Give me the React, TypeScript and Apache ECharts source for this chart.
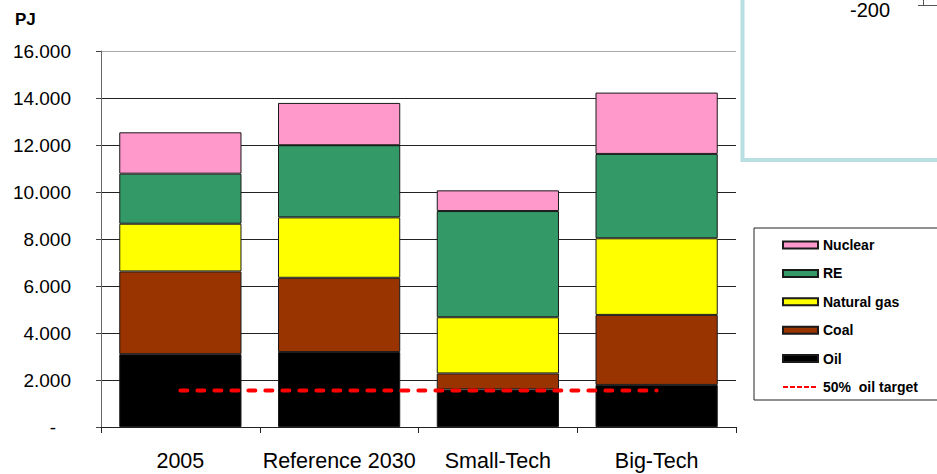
import React, { useEffect, useRef } from "react";
import * as echarts from "echarts";

// Primary energy supply by scenario, PJ
const categories = ["2005", "Reference 2030", "Small-Tech", "Big-Tech"];
const oil = [3100, 3190, 1600, 1790];
const coal = [3520, 3160, 680, 2980];
const naturalGas = [2030, 2570, 2390, 3260];
const renewables = [2130, 3070, 4520, 3590];
const nuclear = [1760, 1800, 880, 2610];
const oilTarget = [1550, 1550, 1550, 1550];

const yTicks = { min: 0, max: 16000, interval: 2000 };
const strayAxisLabel = "-200";

const FONT = 'Arial, "Liberation Sans", Helvetica, sans-serif';

function formatThousands(v: number): string {
  return String(v).replace(/\B(?=(\d{3})+(?!\d))/g, ".");
}

export default function App() {
  const ref = useRef<HTMLDivElement>(null);

  useEffect(() => {
    if (!ref.current) return;
    const chart = echarts.init(ref.current, undefined, { renderer: "svg" });

    const barBase = {
      type: "bar" as const,
      stack: "total",
      barCategoryGap: "23%",
      itemStyle: { borderColor: "#1a1a1a", borderWidth: 1 },
      emphasis: { disabled: true },
    };

    const gridColors = ["#222", "#222", "#222", "#222", "#222", "#222", "#222", "#222", "#aaa"];

    chart.setOption({
      animation: false,
      textStyle: { fontFamily: FONT },
      grid: { left: 101, right: 201, top: 51, bottom: 47, containLabel: false },
      xAxis: {
        type: "category",
        data: categories,
        axisLine: { lineStyle: { color: "#222", width: 1 } },
        axisTick: { show: true, length: 6, lineStyle: { color: "#222" } },
        axisLabel: { color: "#000", fontSize: 21.5, margin: 23, interval: 0, fontFamily: FONT },
      },
      yAxis: {
        type: "value",
        min: yTicks.min,
        max: yTicks.max,
        interval: yTicks.interval,
        axisLine: { show: true, lineStyle: { color: "#666", width: 1 } },
        axisTick: { show: true, length: 5, lineStyle: { color: "#444" } },
        splitLine: { show: true, lineStyle: { color: gridColors, width: 1 } },
        axisLabel: {
          color: "#000",
          fontSize: 19,
          margin: 30,
          fontFamily: FONT,
          formatter: (v: number) => (v === 0 ? "{d|-}" : formatThousands(v)),
          rich: { d: { fontSize: 19, color: "#000", fontFamily: FONT, padding: [0, 15, 0, 0] } },
        },
      },
      legend: {
        orient: "vertical",
        left: 782,
        top: 237,
        padding: 0,
        itemWidth: 35,
        itemHeight: 7,
        itemGap: 12.4,
        textStyle: { fontSize: 14, fontWeight: "bold", color: "#000", fontFamily: FONT, lineHeight: 16 },
        data: [
          { name: "Nuclear", icon: "rect" },
          { name: "RE", icon: "rect" },
          { name: "Natural gas", icon: "rect" },
          { name: "Coal", icon: "rect" },
          { name: "Oil", icon: "rect" },
          {
            name: "50%  oil target",
            itemStyle: { opacity: 0 },
            lineStyle: { width: 2, type: [5, 2], cap: "butt" },
          },
        ],
        selectedMode: false,
      },
      graphic: [
        {
          type: "rect",
          z: 0,
          shape: { x: 754, y: 228, width: 220, height: 172 },
          style: { fill: "#fff", stroke: "#222", lineWidth: 1 },
          silent: true,
        },
        {
          type: "rect",
          z: 0,
          shape: { x: 742.5, y: -20, width: 230, height: 180 },
          style: { fill: "none", stroke: "#BADFE2", lineWidth: 4 },
          silent: true,
        },
        {
          type: "text",
          x: 890,
          y: 10,
          style: {
            text: strayAxisLabel,
            fontSize: 20,
            fontFamily: FONT,
            fill: "#000",
            align: "right",
            verticalAlign: "middle",
          },
          silent: true,
        },
        {
          type: "line",
          shape: { x1: 918, y1: 5.5, x2: 937, y2: 5.5 },
          style: { stroke: "#555", lineWidth: 1 },
          silent: true,
        },
        {
          type: "line",
          shape: { x1: 923.5, y1: 0, x2: 923.5, y2: 5.5 },
          style: { stroke: "#555", lineWidth: 1 },
          silent: true,
        },
        {
          type: "text",
          x: 15,
          y: 19,
          style: {
            text: "PJ",
            fontSize: 17,
            fontWeight: "bold",
            fontFamily: FONT,
            fill: "#000",
            verticalAlign: "middle",
          },
          silent: true,
        },
      ],
      series: [
        { ...barBase, name: "Oil", data: oil, itemStyle: { ...barBase.itemStyle, color: "#000000" } },
        { ...barBase, name: "Coal", data: coal, itemStyle: { ...barBase.itemStyle, color: "#993300" } },
        { ...barBase, name: "Natural gas", data: naturalGas, itemStyle: { ...barBase.itemStyle, color: "#FFFF00" } },
        { ...barBase, name: "RE", data: renewables, itemStyle: { ...barBase.itemStyle, color: "#339966" } },
        { ...barBase, name: "Nuclear", data: nuclear, itemStyle: { ...barBase.itemStyle, color: "#FF99CC" } },
        {
          type: "line",
          name: "50%  oil target",
          data: oilTarget,
          symbol: "none",
          z: 5,
          color: "#FF0000",
          lineStyle: { color: "#FF0000", width: 4, type: [7, 10], cap: "round" },
          emphasis: { disabled: true },
        },
      ],
    });

    return () => chart.dispose();
  }, []);

  return (
    <div
      ref={ref}
      style={{ position: "fixed", left: 0, top: 0, width: 937, height: 474, background: "#fff" }}
    />
  );
}
